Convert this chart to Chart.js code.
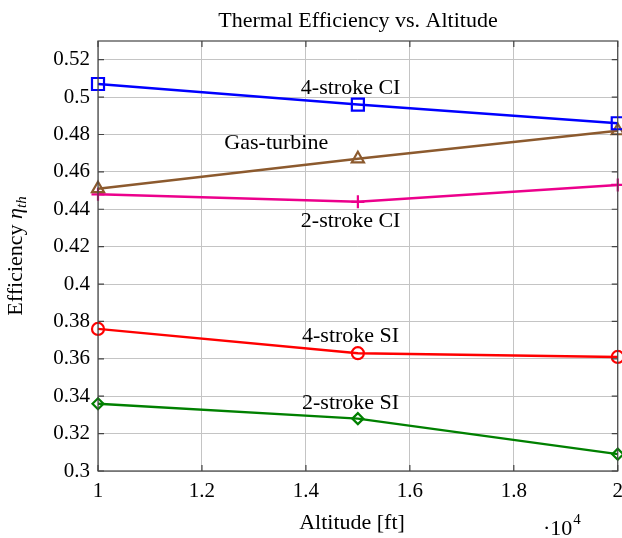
<!DOCTYPE html>
<html lang="en">

<head>
    <meta charset="UTF-8" />
    <title>Thermal Efficiency vs. Altitude</title>
    <script src="https://cdn.jsdelivr.net/npm/chart.js"></script>
    <style>
        body {
            margin: 0;
            background: #ffffff;
        }

        #wrap {
            width: 622px;
            height: 538px;
            overflow: hidden;
        }
    </style>
</head>

<body>
    <!-- canvas a bit wider than the window: Chart.js keeps room for the last x label -->
    <div id="wrap"><canvas id="effChart" width="631" height="538"></canvas></div>

    <script>
        // altitude in units of 10^4 ft
        const altitudes = [1, 1.5, 2];
        const fourStrokeCI = [0.507, 0.496, 0.486];
        const gasTurbine = [0.451, 0.467, 0.482];
        const twoStrokeCI = [0.448, 0.444, 0.453];
        const fourStrokeSI = [0.376, 0.363, 0.361];
        const twoStrokeSI = [0.336, 0.328, 0.309];

        const xTicks = [1, 1.2, 1.4, 1.6, 1.8, 2];
        const yTicks = [0.3, 0.32, 0.34, 0.36, 0.38, 0.4, 0.42, 0.44, 0.46, 0.48, 0.5, 0.52];

        const FONT = '"Liberation Serif", "DejaVu Serif", serif';
        const FS = 21;   // tick labels
        const LS = 22;   // titles and curve labels

        function series(label, ys, color, marker, radius) {
            return {
                label: label,
                data: altitudes.map((x, i) => ({ x: x, y: ys[i] })),
                borderColor: color,
                backgroundColor: '#ffffff',
                pointBorderColor: color,
                pointBackgroundColor: 'rgba(255,255,255,0)',
                pointStyle: marker,
                pointRadius: radius,
                pointBorderWidth: 2.2,
                borderWidth: 2.4,
                tension: 0,
            };
        }

        // curve labels, placed in data coordinates
        const curveLabels = [
            { text: '4-stroke CI', x: 1.486, y: 0.5045 },
            { text: 'Gas-turbine', x: 1.343, y: 0.4752 },
            { text: '2-stroke CI', x: 1.486, y: 0.4335 },
            { text: '4-stroke SI', x: 1.486, y: 0.3723 },
            { text: '2-stroke SI', x: 1.486, y: 0.3365 },
        ];

        const decorPlugin = {
            id: 'decor',
            afterDatasetsDraw(chart) {
                const ctx = chart.ctx;
                const a = chart.chartArea;
                const xs = chart.scales.x, ys = chart.scales.y;
                ctx.save();
                // frame
                ctx.strokeStyle = '#444444';
                ctx.lineWidth = 1.2;
                ctx.strokeRect(a.left, a.top, a.right - a.left, a.bottom - a.top);
                // inward tick marks
                ctx.beginPath();
                xTicks.forEach(v => {
                    const px = xs.getPixelForValue(v);
                    ctx.moveTo(px, a.bottom); ctx.lineTo(px, a.bottom - 6);
                    ctx.moveTo(px, a.top); ctx.lineTo(px, a.top + 6);
                });
                yTicks.forEach(v => {
                    const py = ys.getPixelForValue(v);
                    ctx.moveTo(a.left, py); ctx.lineTo(a.left + 6, py);
                    ctx.moveTo(a.right, py); ctx.lineTo(a.right - 6, py);
                });
                ctx.stroke();

                // curve labels
                ctx.fillStyle = '#000000';
                ctx.font = LS + 'px ' + FONT;
                ctx.textAlign = 'center';
                ctx.textBaseline = 'middle';
                curveLabels.forEach(l => {
                    ctx.fillText(l.text, xs.getPixelForValue(l.x), ys.getPixelForValue(l.y));
                });
                ctx.restore();
            },
            afterDraw(chart) {
                const ctx = chart.ctx;
                ctx.save();
                ctx.fillStyle = '#000000';
                ctx.textBaseline = 'alphabetic';

                // title
                ctx.font = LS + 'px ' + FONT;
                ctx.textAlign = 'center';
                ctx.fillText('Thermal Efficiency vs. Altitude', 358, 27);

                // x title
                ctx.fillText('Altitude [ft]', 352, 529);

                // exponent
                ctx.textAlign = 'left';
                const base = '\u00b710';
                ctx.fillText(base, 543, 535);
                const bw = ctx.measureText(base).width;
                ctx.font = '15px ' + FONT;
                ctx.fillText('4', 543 + bw + 1, 524);

                // y title
                ctx.translate(22, 256);
                ctx.rotate(-Math.PI / 2);
                ctx.font = LS + 'px ' + FONT;
                const w1 = ctx.measureText('Efficiency ').width;
                ctx.font = 'italic ' + LS + 'px ' + FONT;
                const w2 = ctx.measureText('\u03b7').width;
                ctx.font = 'italic 15px ' + FONT;
                const w3 = ctx.measureText('th').width;
                let x0 = -(w1 + w2 + w3) / 2;
                ctx.font = LS + 'px ' + FONT;
                ctx.fillText('Efficiency ', x0, 0);
                x0 += w1;
                ctx.font = 'italic ' + LS + 'px ' + FONT;
                ctx.fillText('\u03b7', x0, 0);
                x0 += w2;
                ctx.font = 'italic 15px ' + FONT;
                ctx.fillText('th', x0, 4);
                ctx.restore();
            }
        };

        const ctx = document.getElementById('effChart').getContext('2d');
        new Chart(ctx, {
            type: 'line',
            data: {
                datasets: [
                    series('4-stroke CI', fourStrokeCI, '#0000ff', 'rect', 8.5),
                    series('Gas-turbine', gasTurbine, '#8c5a2e', 'triangle', 7),
                    series('2-stroke CI', twoStrokeCI, '#ec008c', 'cross', 6.5),
                    series('4-stroke SI', fourStrokeSI, '#ff0000', 'circle', 6),
                    series('2-stroke SI', twoStrokeSI, '#008000', 'rectRot', 5.5),
                ],
            },
            options: {
                responsive: false,
                animation: false,
                clip: false,
                layout: { padding: { top: 41, right: 0, left: 0, bottom: 0 } },
                plugins: {
                    legend: { display: false },
                    title: { display: false },
                    tooltip: { enabled: false },
                },
                scales: {
                    x: {
                        type: 'linear',
                        min: 1,
                        max: 2,
                        afterBuildTicks: s => { s.ticks = xTicks.map(v => ({ value: v })); },
                        afterFit: s => { s.height = 67; },
                        ticks: {
                            callback: v => String(Math.round(v * 10) / 10),
                            font: { family: FONT, size: FS },
                            color: '#000000',
                            padding: 8,
                            maxRotation: 0,
                        },
                        grid: { color: '#c4c4c4', lineWidth: 1, drawTicks: false },
                        border: { display: false },
                    },
                    y: {
                        type: 'linear',
                        min: 0.3,
                        max: 0.53,
                        afterBuildTicks: s => { s.ticks = yTicks.map(v => ({ value: v })); },
                        afterFit: s => { s.width = 98; },
                        ticks: {
                            callback: v => String(Math.round(v * 100) / 100),
                            font: { family: FONT, size: FS },
                            color: '#000000',
                            padding: 8,
                        },
                        grid: { color: '#c4c4c4', lineWidth: 1, drawTicks: false },
                        border: { display: false },
                    },
                },
            },
            plugins: [decorPlugin],
        });
    </script>
</body>

</html>
